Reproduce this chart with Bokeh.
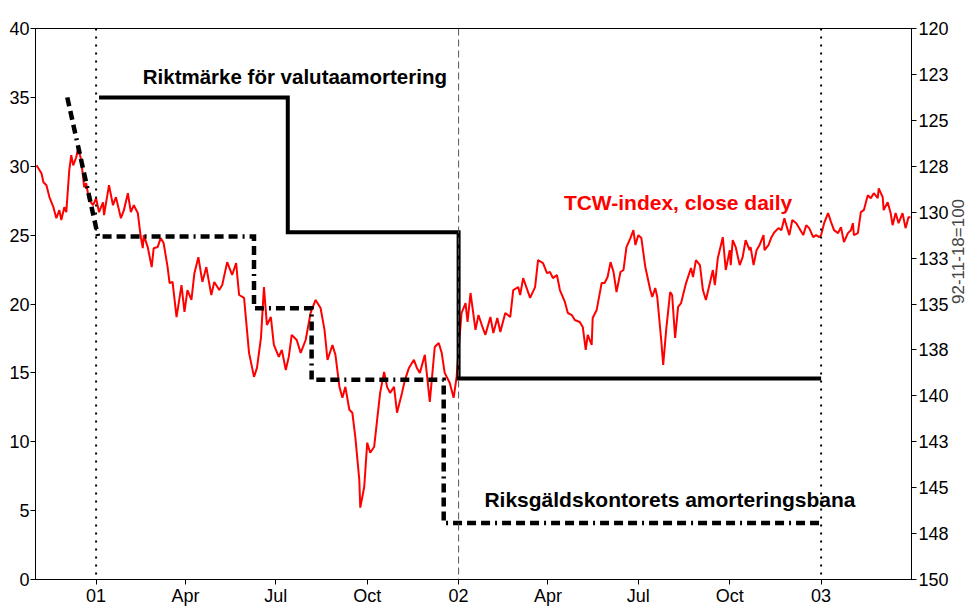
import math
import pandas as pd
from bokeh.plotting import figure
from bokeh.models import Range1d, LinearAxis, FixedTicker, Span, Label, ColumnDataSource
from bokeh.embed import file_html
from bokeh.resources import INLINE

# ---------------- data ----------------
tcw_dates = [
    "2000-11-02", "2000-11-07", "2000-11-09", "2000-11-12", "2000-11-15", "2000-11-19", "2000-11-22", "2000-11-25", "2000-11-27", "2000-11-30",
    "2000-12-02", "2000-12-05", "2000-12-07", "2000-12-09", "2000-12-12", "2000-12-14", "2000-12-17", "2000-12-20", "2000-12-22", "2000-12-25", "2000-12-29",
    "2001-01-01", "2001-01-04", "2001-01-08", "2001-01-09", "2001-01-14", "2001-01-18", "2001-01-21", "2001-01-26", "2001-01-29",
    "2001-02-02", "2001-02-05", "2001-02-08", "2001-02-12", "2001-02-15", "2001-02-17", "2001-02-18", "2001-02-22", "2001-02-26", "2001-02-28",
    "2001-03-04", "2001-03-07", "2001-03-10", "2001-03-14", "2001-03-16", "2001-03-19", "2001-03-23", "2001-03-28", "2001-03-31",
    "2001-04-03", "2001-04-07", "2001-04-10", "2001-04-14", "2001-04-18", "2001-04-22", "2001-04-27", "2001-04-30",
    "2001-05-05", "2001-05-08", "2001-05-13", "2001-05-18", "2001-05-22", "2001-05-25", "2001-05-30",
    "2001-06-04", "2001-06-09", "2001-06-12", "2001-06-16", "2001-06-19", "2001-06-22", "2001-06-26", "2001-06-29",
    "2001-07-04", "2001-07-07", "2001-07-11", "2001-07-14", "2001-07-17", "2001-07-22", "2001-07-26", "2001-07-31",
    "2001-08-05", "2001-08-10", "2001-08-15", "2001-08-19", "2001-08-22", "2001-08-27", "2001-08-30",
    "2001-09-03", "2001-09-06", "2001-09-09", "2001-09-13", "2001-09-16", "2001-09-19", "2001-09-23", "2001-09-24", "2001-09-28",
    "2001-10-01", "2001-10-04", "2001-10-08", "2001-10-11", "2001-10-14", "2001-10-18", "2001-10-21", "2001-10-24", "2001-10-28", "2001-10-31",
    "2001-11-05", "2001-11-08", "2001-11-12", "2001-11-17", "2001-11-20", "2001-11-23", "2001-11-28",
    "2001-12-03", "2001-12-08", "2001-12-12", "2001-12-15", "2001-12-18", "2001-12-23", "2001-12-27", "2001-12-30",
    "2002-01-02", "2002-01-04", "2002-01-08", "2002-01-10", "2002-01-13", "2002-01-18", "2002-01-21", "2002-01-25", "2002-01-28",
    "2002-02-02", "2002-02-05", "2002-02-09", "2002-02-12", "2002-02-17", "2002-02-22", "2002-02-25",
    "2002-03-02", "2002-03-04", "2002-03-07", "2002-03-14", "2002-03-19", "2002-03-22", "2002-03-27", "2002-03-31",
    "2002-04-03", "2002-04-06", "2002-04-10", "2002-04-13", "2002-04-18", "2002-04-21", "2002-04-25", "2002-04-28",
    "2002-05-03", "2002-05-06", "2002-05-09", "2002-05-11", "2002-05-15", "2002-05-16", "2002-05-20", "2002-05-25", "2002-05-28", "2002-05-31",
    "2002-06-03", "2002-06-06", "2002-06-09", "2002-06-13", "2002-06-16", "2002-06-19", "2002-06-23", "2002-06-26", "2002-06-28",
    "2002-07-01", "2002-07-04", "2002-07-08", "2002-07-13", "2002-07-15", "2002-07-18", "2002-07-20", "2002-07-24", "2002-07-26", "2002-07-29",
    "2002-08-02", "2002-08-04", "2002-08-07", "2002-08-10", "2002-08-13", "2002-08-18", "2002-08-23", "2002-08-25", "2002-08-28",
    "2002-09-01", "2002-09-04", "2002-09-07", "2002-09-11", "2002-09-14", "2002-09-16", "2002-09-19", "2002-09-24", "2002-09-27",
    "2002-10-01", "2002-10-02", "2002-10-04", "2002-10-07", "2002-10-11", "2002-10-14", "2002-10-17", "2002-10-21", "2002-10-22", "2002-10-25", "2002-10-28", "2002-10-31",
    "2002-11-04", "2002-11-05", "2002-11-09", "2002-11-12", "2002-11-15", "2002-11-19", "2002-11-22", "2002-11-25", "2002-11-27", "2002-11-30",
    "2002-12-03", "2002-12-07", "2002-12-10", "2002-12-14", "2002-12-17", "2002-12-20", "2002-12-24", "2002-12-27", "2002-12-30",
    "2003-01-01", "2003-01-04", "2003-01-08", "2003-01-11", "2003-01-14", "2003-01-18", "2003-01-21", "2003-01-24", "2003-01-28", "2003-01-31",
    "2003-02-02", "2003-02-03", "2003-02-07", "2003-02-10", "2003-02-13", "2003-02-17", "2003-02-20", "2003-02-23", "2003-02-27", "2003-02-28",
    "2003-03-04", "2003-03-05", "2003-03-09", "2003-03-12", "2003-03-14", "2003-03-17", "2003-03-20", "2003-03-24", "2003-03-27", "2003-03-30", "2003-04-01",
]
tcw_values = [
    127.45, 127.88, 128.37, 128.53, 129.18, 129.73, 130.33, 129.89, 130.43, 129.73,
    130.00, 127.72, 126.90, 127.45, 127.01, 126.47, 127.17, 128.64, 128.42, 129.35, 129.62,
    129.24, 130.00, 129.46, 130.16, 128.53, 129.62, 129.18, 130.33, 129.89,
    128.97, 130.00, 129.62, 130.05, 131.36, 131.96, 131.25, 131.90, 132.99, 131.96,
    131.90, 131.41, 131.68, 132.99, 133.86, 133.80, 135.71, 133.97, 135.43,
    134.24, 134.78, 133.32, 132.45, 133.80, 132.99, 134.51, 133.80,
    134.24, 133.97, 132.72, 133.42, 132.77, 134.51, 134.67,
    137.66, 138.97, 138.48, 136.85, 134.08, 136.14, 135.71, 137.23,
    137.88, 137.50, 138.59, 137.88, 136.68, 136.96, 137.66, 136.96,
    135.49, 134.78, 135.22, 136.41, 138.04, 137.23, 137.77,
    139.51, 140.11, 139.51, 140.76, 140.92, 142.23, 144.57, 146.09, 144.95,
    142.55, 143.10, 142.77, 141.30, 139.84, 138.70, 139.51, 139.84, 139.51, 140.92,
    139.84, 139.13, 138.48, 138.04, 138.48, 138.75, 137.77,
    140.33, 137.34, 137.12, 137.66, 138.75, 139.29, 140.11, 138.97,
    136.79, 135.49, 134.95, 135.98, 134.40, 136.41, 135.60, 136.25, 136.68,
    135.71, 136.58, 135.76, 136.52, 135.49, 135.71, 134.24,
    134.08, 134.51, 133.59, 134.67, 134.08, 132.61, 132.77, 133.32,
    133.26, 133.59, 133.42, 134.24, 134.89, 135.49, 135.60, 135.87,
    135.98, 136.25, 137.50, 136.68, 137.23, 135.76, 135.33, 133.86, 133.86, 133.53,
    132.72, 133.26, 134.35, 133.26, 133.15, 131.90, 131.41, 130.98, 131.79,
    131.25, 131.41, 132.99, 134.24, 134.62, 134.13, 134.62, 136.96, 138.32, 136.41,
    134.35, 134.51, 136.85, 135.16, 134.95, 133.86, 133.04, 133.53, 132.61,
    132.88, 134.24, 134.78, 133.86, 133.15, 133.97, 132.50, 131.36, 133.15,
    132.07, 132.88, 131.52, 131.90, 132.88, 132.45, 131.52, 132.07, 131.90, 132.88, 132.07, 131.79,
    131.25, 132.07, 131.79, 131.36, 131.09, 130.87, 130.98, 130.33, 130.71, 131.25,
    130.43, 130.60, 130.87, 131.25, 130.71, 130.87, 131.36, 131.25, 131.36,
    131.25, 130.60, 130.05, 130.54, 130.98, 131.14, 130.82, 131.63, 131.14, 130.98,
    130.60, 131.25, 131.14, 130.00, 129.89, 129.08, 129.24, 128.97, 129.24, 128.70,
    129.18, 129.89, 129.46, 130.05, 130.71, 130.05, 130.60, 130.05, 130.87, 130.27, 130.27,
]

# Riktmärke för valutaamortering (step, value held until next date)
rikt_dates = ["2001-01-04", "2001-07-13", "2002-01-01", "2003-01-01"]
rikt_values = [35.0, 25.2, 14.6, 14.6]

# Riksgäldskontorets amorteringsbana (vertices)
rg_dates = ["2000-12-03", "2001-01-03", "2001-06-09", "2001-06-09", "2001-08-06",
            "2001-08-06", "2001-12-17", "2001-12-17", "2003-01-01"]
rg_values = [35.0, 24.9, 24.9, 19.7, 19.7, 14.5, 14.5, 4.1, 4.1]

x_tick_dates = ["2001-01-01", "2001-04-01", "2001-07-01", "2001-10-01", "2002-01-01",
                "2002-04-01", "2002-07-01", "2002-10-01", "2003-01-01"]
x_tick_labels = ["01", "Apr", "Jul", "Oct", "02", "Apr", "Jul", "Oct", "03"]

left_ticks = [0, 5, 10, 15, 20, 25, 30, 35, 40]
right_ticks = [120, 122.5, 125, 127.5, 130, 132.5, 135, 137.5, 140, 142.5, 145, 147.5, 150]
right_labels = ["120", "123", "125", "128", "130", "133", "135", "138", "140", "143", "145", "148", "150"]
right_title = "92-11-18=100"

year_lines = ["2001-01-01", "2002-01-01", "2003-01-01"]


def ms(s):
    return (pd.Timestamp(s) - pd.Timestamp("1970-01-01")) / pd.Timedelta(milliseconds=1)


FONT = "Liberation Sans"

p = figure(width=980, height=608, output_backend="svg", toolbar_location=None,
           x_axis_type="datetime",
           x_range=Range1d(ms("2000-11-01"), ms("2003-04-02")),
           y_range=Range1d(0, 40),
           min_border_left=35, min_border_right=58, min_border_top=28, min_border_bottom=28,
           background_fill_color="white", border_fill_color="white")
p.xgrid.visible = False
p.ygrid.visible = False
p.outline_line_color = "black"
p.outline_line_width = 1
p.outline_line_alpha = 1

p.extra_y_ranges = {"tcw": Range1d(start=150, end=120)}


def style_axis(ax):
    ax.axis_line_color = "black"
    ax.axis_line_width = 1
    ax.major_tick_line_color = "black"
    ax.major_tick_in = 0
    ax.major_tick_out = 5
    ax.minor_tick_line_color = None
    ax.major_label_text_font = FONT
    ax.major_label_text_font_size = "18px"
    ax.major_label_text_color = "black"
    ax.major_label_standoff = 2


# x axis
xa = p.xaxis[0]
xa.ticker = FixedTicker(ticks=[ms(d) for d in x_tick_dates])
xa.major_label_overrides = {ms(d): lab for d, lab in zip(x_tick_dates, x_tick_labels)}
style_axis(xa)
xa.major_label_standoff = 1

# left axis
ya = p.yaxis[0]
ya.ticker = FixedTicker(ticks=left_ticks)
style_axis(ya)
ya.major_label_standoff = 1

# right axis with rotated title reading bottom to top
ra = LinearAxis(y_range_name="tcw", ticker=FixedTicker(ticks=right_ticks),
                major_label_overrides={t: l for t, l in zip(right_ticks, right_labels)},
                axis_label=right_title)
style_axis(ra)
ra.major_label_standoff = 2
ra.axis_label_text_font = FONT
ra.axis_label_text_font_style = "normal"
ra.axis_label_text_font_size = "17px"
ra.axis_label_standoff = 7
if "axis_label_orientation" in ra.properties():
    ra.axis_label_orientation = math.pi / 2
p.add_layout(ra, "right")

# year reference lines
styles = [dict(line_color="black", line_dash="2 6", line_width=2),
          dict(line_color="#555555", line_dash="7 4", line_width=1),
          dict(line_color="black", line_dash="2 6", line_width=2)]
for d, st in zip(year_lines, styles):
    p.add_layout(Span(location=ms(d), dimension="height", **st))

# TCW index (right axis)
tcw_src = ColumnDataSource(dict(x=pd.to_datetime(tcw_dates), y=tcw_values))
p.line("x", "y", source=tcw_src, y_range_name="tcw", line_color="#FF0000", line_width=2)

# Riksgälden path
rg_src = ColumnDataSource(dict(x=pd.to_datetime(rg_dates), y=rg_values))
p.line("x", "y", source=rg_src, line_color="black", line_width=4.5,
       line_dash="9 5 9 5 9 5 2 5", line_join="miter")

# Riktmärke
rk_src = ColumnDataSource(dict(x=pd.to_datetime(rikt_dates), y=rikt_values))
p.step("x", "y", source=rk_src, mode="after", line_color="black", line_width=4,
       line_join="miter")

# labels
p.add_layout(Label(x=ms("2001-02-17"), y=36.5, text="Riktmärke för valutaamortering",
                   text_font=FONT, text_font_style="bold", text_font_size="20.5px",
                   text_color="black", text_baseline="middle", text_align="left"))
p.add_layout(Label(x=ms("2002-04-17"), y=27.4, text="TCW-index, close daily",
                   text_font=FONT, text_font_style="bold", text_font_size="21px",
                   text_color="#FF0000", text_baseline="middle", text_align="left"))
p.add_layout(Label(x=ms("2002-01-27"), y=5.8, text="Riksgäldskontorets amorteringsbana",
                   text_font=FONT, text_font_style="bold", text_font_size="21px",
                   text_color="black", text_baseline="middle", text_align="left"))

open("out.html", "w").write(file_html(p, INLINE))
